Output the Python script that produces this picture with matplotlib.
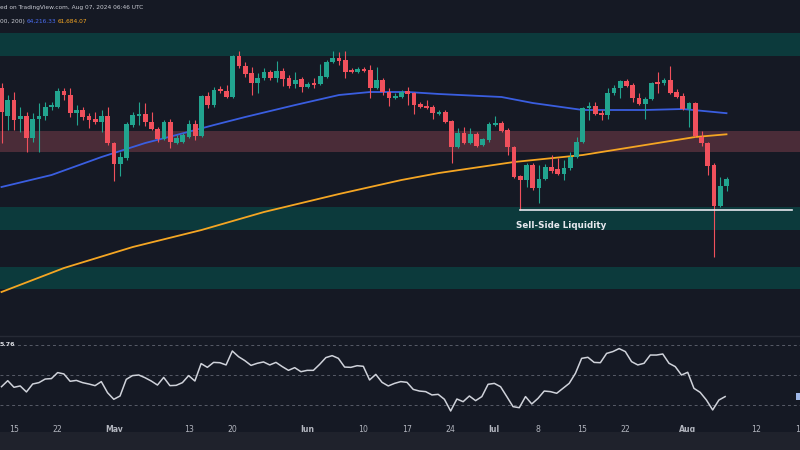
import numpy as np
import pandas as pd
import matplotlib
matplotlib.use("Agg")
import matplotlib.pyplot as plt
import matplotlib.dates as mdates
from matplotlib.patches import Rectangle
from matplotlib.lines import Line2D

# ---------------- data ----------------
dates = pd.date_range("2024-04-13", periods=117, freq="D")

opens = [67240, 63880, 65800, 63520, 63880, 61240, 63520, 63880, 64960, 64960,
         66880, 66400, 64240, 64600, 63880, 63520, 63160, 63880, 60640, 58120,
         58840, 62800, 63880, 64120, 63160, 62320, 61120, 63160, 60640, 60760,
         61360, 62920, 61480, 66280, 65200, 67120, 66880, 66160, 71080, 69880,
         69040, 67840, 68440, 69160, 68440, 69280, 68440, 67720, 68320, 67360,
         67840, 67720, 68560, 70360, 70840, 70600, 69400, 69160, 69520, 69400,
         67240, 68200, 66760, 66040, 66160, 66880, 66640, 65320, 65080, 64960,
         64120, 64360, 63280, 60160, 61840, 60640, 61720, 60400, 61000, 62800,
         63040, 62200, 60160, 56680, 56200, 58000, 55240, 56320, 57760, 57520,
         56920, 57640, 58960, 60760, 64840, 65080, 64240, 64000, 66640, 67240,
         68080, 67600, 66040, 65320, 65920, 67960, 67840, 68200, 66760, 66280,
         64720, 65440, 61360, 60640, 58000, 53080, 55480]
highs = [67840, 66400, 66760, 64960, 64360, 64240, 65440, 65560, 65560, 67240,
         67240, 67240, 65200, 64960, 64240, 64360, 64600, 64960, 60760, 59560,
         63160, 64360, 65560, 65440, 64360, 62560, 63400, 63520, 61600, 61840,
         63400, 63400, 66400, 66760, 67360, 67480, 67600, 71200, 71680, 70360,
         69760, 69040, 69640, 69400, 70480, 69640, 68800, 69160, 68560, 67960,
         68440, 70120, 70600, 71680, 71560, 71680, 69640, 69760, 69760, 70000,
         69760, 68440, 67240, 66640, 67000, 67360, 66760, 65560, 65800, 65200,
         64600, 64600, 63400, 62440, 62560, 62440, 61960, 61240, 63160, 63880,
         63280, 62440, 60280, 56800, 58240, 58240, 58000, 58120, 59200, 58840,
         58600, 59560, 61360, 64960, 65560, 65560, 64600, 67240, 67600, 68200,
         68320, 67840, 66640, 66160, 67960, 69160, 68440, 69880, 67120, 66640,
         65560, 65560, 62080, 60760, 58240, 56560, 56560]
lows = [60640, 62200, 62200, 61960, 59560, 60760, 59560, 63400, 64600, 64840,
        65800, 63760, 62800, 63400, 62440, 62920, 61960, 60400, 56080, 56680,
        58600, 62560, 62800, 62680, 62200, 60760, 61000, 60040, 60520, 60640,
        61240, 61000, 61360, 64840, 64960, 66640, 66040, 66040, 69640, 68560,
        66400, 66640, 68200, 68200, 67960, 67480, 67240, 67240, 66760, 67240,
        67240, 67600, 68440, 70240, 70000, 68440, 69040, 69040, 69160, 66040,
        67120, 66400, 65080, 65920, 66040, 65200, 64120, 64840, 64720, 63520,
        64000, 63040, 58240, 60040, 60520, 60520, 60160, 60280, 60760, 62680,
        61960, 59200, 56440, 52600, 55360, 55000, 53440, 56200, 57040, 56800,
        56200, 57400, 58840, 60640, 63400, 64000, 63400, 63520, 66400, 66040,
        67360, 65560, 65200, 63520, 65800, 66640, 67600, 66520, 66040, 64600,
        62560, 61360, 60280, 56800, 46960, 52960, 54880]
closes = [64360, 65800, 63400, 63880, 61240, 63520, 63880, 64960, 65200, 66880,
          66400, 64240, 64600, 63760, 63400, 63160, 63880, 60640, 58120, 58960,
          62920, 64000, 64120, 63160, 62320, 61120, 63160, 60760, 61240, 61600,
          62920, 61480, 66280, 65200, 67000, 66880, 66160, 71080, 69880, 68920,
          67840, 68440, 69160, 68440, 69280, 68320, 67480, 68200, 67360, 67720,
          67600, 68680, 70360, 70840, 70480, 69160, 69160, 69520, 69280, 67240,
          68200, 66760, 66040, 66280, 66760, 66520, 65200, 64960, 64840, 64240,
          64360, 63160, 60160, 61840, 60640, 61720, 60280, 61120, 62920, 63040,
          62080, 60160, 56560, 56200, 58000, 55240, 56320, 57760, 57280, 56920,
          57640, 58960, 60760, 64840, 65080, 64120, 64000, 66640, 67240, 68080,
          67480, 66040, 65320, 65920, 67840, 67720, 68200, 66640, 66160, 64720,
          65440, 61480, 60640, 57880, 53080, 55480, 56320]

rsi = [42.2, 46.2, 41.8, 42.7, 38.7, 44.0, 44.9, 47.3, 47.6, 51.6,
       50.7, 45.8, 46.4, 44.9, 44.0, 42.9, 45.6, 38.2, 33.8, 36.0,
       47.1, 49.6, 50.0, 48.2, 46.0, 43.3, 48.4, 42.9, 43.1, 44.9,
       49.6, 46.0, 57.6, 55.1, 58.4, 58.2, 56.7, 66.0, 62.2, 59.6,
       56.4, 57.8, 58.7, 56.7, 58.4, 55.6, 53.1, 54.9, 52.2, 53.1,
       53.1, 57.1, 61.6, 62.9, 61.1, 55.3, 55.1, 56.2, 55.8, 46.7,
       50.4, 45.1, 42.7, 44.4, 45.6, 45.1, 40.4, 39.3, 38.9, 36.7,
       37.1, 33.8, 26.0, 34.0, 32.2, 36.0, 32.9, 35.6, 43.8, 44.4,
       42.2, 35.6, 28.9, 28.2, 35.6, 30.7, 34.4, 39.3, 38.9, 37.8,
       41.1, 44.4, 51.1, 61.1, 61.8, 58.4, 58.2, 64.4, 65.6, 67.6,
       65.6, 58.9, 56.7, 57.8, 63.3, 63.3, 64.0, 57.8, 55.6, 50.0,
       51.8, 41.1, 38.4, 33.3, 26.7, 33.3, 35.6]

ma100_dates = ["2024-04-13", "2024-04-21", "2024-04-29", "2024-05-06", "2024-05-11",
               "2024-05-17", "2024-05-22", "2024-05-30", "2024-06-06", "2024-06-11",
               "2024-06-17", "2024-06-22", "2024-07-02", "2024-07-07", "2024-07-15",
               "2024-07-25", "2024-07-31", "2024-08-07"]
ma100_vals = [55360, 56800, 58960, 60640, 61600, 62800, 63760, 65200, 66400, 66760,
              66760, 66520, 66160, 65440, 64600, 64600, 64720, 64216]
ma200_dates = ["2024-04-13", "2024-04-23", "2024-05-04", "2024-05-15", "2024-05-25",
               "2024-06-06", "2024-06-16", "2024-06-22", "2024-07-04", "2024-07-15",
               "2024-07-28", "2024-08-02", "2024-08-07"]
ma200_vals = [42760, 45640, 48160, 50200, 52360, 54520, 56200, 57040, 58360, 59200,
              60760, 61360, 61684]

supply_zone = (71080, 73840)
mid_zone = (59560, 62080)
demand_zones = [(50200, 52960), (43120, 45760)]
liquidity_level = 52600
liquidity_start = "2024-07-05"
liquidity_end = "2024-08-19"

tick_dates = ["2024-04-15", "2024-04-22", "2024-05-01", "2024-05-13", "2024-05-20",
              "2024-06-01", "2024-06-10", "2024-06-17", "2024-06-24", "2024-07-01",
              "2024-07-08", "2024-07-15", "2024-07-22", "2024-08-01", "2024-08-12",
              "2024-08-19"]
tick_labels = ["15", "22", "May", "13", "20", "Jun", "10", "17", "24", "Jul",
               "8", "15", "22", "Aug", "12", "19"]

# ---------------- style ----------------
BG = "#151924"
UP = "#22a48f"
DN = "#f0505c"
TEAL = "#0c3a3c"
PINK = "#4a2c38"
BLUE = "#3a5ee0"
ORANGE = "#f5a623"
TXT = "#b2b5be"

W, H = 800, 450
fig = plt.figure(figsize=(8, 4.5), dpi=100, facecolor=BG)

x = mdates.date2num(dates)
x0 = x[0] - 0.24
x1 = x[0] + 127.76

# main panel: pixel rows 0..336
ax = fig.add_axes([0, 114 / H, 1, 336 / H])
ax.set_facecolor(BG)
ax.set_xlim(x0, x1)
ax.set_ylim(37480, 77800)
for s in ax.spines.values():
    s.set_visible(False)
ax.set_xticks([])
ax.set_yticks([])

ax.axhspan(*supply_zone, color=TEAL, lw=0, zorder=0)
ax.axhspan(*mid_zone, color=PINK, lw=0, zorder=0)
for z in demand_zones:
    ax.axhspan(*z, color=TEAL, lw=0, zorder=0)

o = np.array(opens); h = np.array(highs); l = np.array(lows); c = np.array(closes)
cols = np.where(c >= o, UP, DN)
ax.vlines(x, l, h, colors=cols, lw=0.8, zorder=3)
body_bottom = np.minimum(o, c)
body_h = np.maximum(np.abs(c - o), 140)
ax.bar(x, body_h, bottom=body_bottom, width=0.74, color=cols, lw=0, zorder=4)

ax.plot(mdates.date2num(pd.to_datetime(ma100_dates)), ma100_vals, color=BLUE, lw=1.3, zorder=2)
ax.plot(mdates.date2num(pd.to_datetime(ma200_dates)), ma200_vals, color=ORANGE, lw=1.3, zorder=2)

ls = mdates.date2num(pd.Timestamp(liquidity_start))
le = mdates.date2num(pd.Timestamp(liquidity_end)) - 1.6
ax.plot([ls, le], [liquidity_level, liquidity_level], color="#e6e8ee", lw=1.2, zorder=5)
ax.text(ls - 0.7, 50740, "Sell-Side Liquidity", color="#e6e8ee", fontsize=6.3,
        fontweight="bold", va="center", ha="left", zorder=6)

# header texts
fig.text(0.0, 1 - 7.5 / H, "ed on TradingView.com, Aug 07, 2024 06:46 UTC", color="#c8cad2",
         fontsize=4.2, va="center", ha="left")
fig.text(0.0, 1 - 21.5 / H, "00, 200)", color="#c8cad2", fontsize=4.2, va="center", ha="left")
fig.text(27 / W, 1 - 21.5 / H, "64,216.33", color="#4a6cf0", fontsize=4.2, va="center", ha="left")
fig.text(58 / W, 1 - 21.5 / H, "61,684.07", color="#f5a623", fontsize=4.2, va="center", ha="left")

# RSI panel: pixel rows 337..418
rax = fig.add_axes([0, 32 / H, 1, 81 / H])
rax.set_facecolor(BG)
rax.set_xlim(x0, x1)
rax.set_ylim(21.33, 75.33)
for s in rax.spines.values():
    s.set_visible(False)
rax.set_yticks([])
for lvl in (70, 50, 30):
    rax.axhline(lvl, color="#585c68", lw=0.7, ls=(0, (3, 3)))
rax.plot(x, rsi, color="#cfd2da", lw=1.1)
rax.set_xticks(mdates.date2num(pd.to_datetime(tick_dates)))
rax.set_xticklabels(tick_labels)
rax.tick_params(axis="x", length=0, pad=5, labelsize=5.6, labelcolor=TXT)
for lab in rax.get_xticklabels():
    if lab.get_text() in ("May", "Jun", "Jul", "Aug"):
        lab.set_fontweight("bold")
fig.text(0.0, 1 - 345 / H, "5.76", color="#d8dae0", fontsize=4.6, fontweight="bold",
         va="center", ha="left")

# separators / bottom strip / right label
fig.add_artist(Line2D([0, 1], [1 - 336 / H, 1 - 336 / H], color="#262a35", lw=1.0))
fig.add_artist(Rectangle((0, 0), 1, 18 / H, color="#1f222c", lw=0))
fig.add_artist(Rectangle((796 / W, 1 - 400 / H), 5 / W, 7 / H, color="#9fb8e8", lw=0))

fig.savefig("out.png", dpi=100, facecolor=BG)
